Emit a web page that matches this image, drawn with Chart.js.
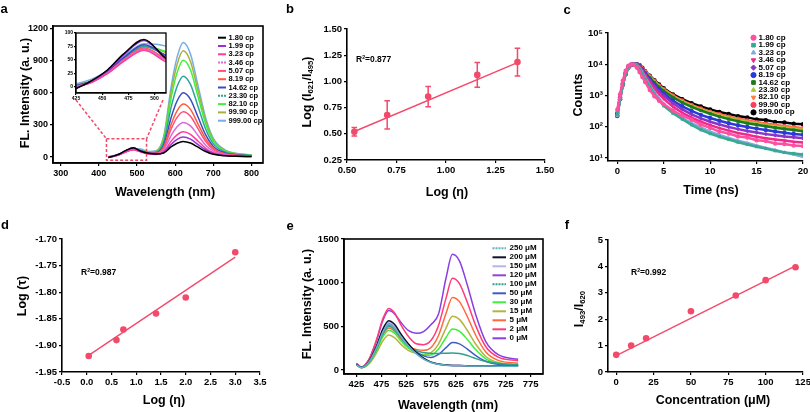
<!DOCTYPE html>
<html>
<head>
<meta charset="utf-8">
<title>Viscosity probe figure</title>
<script src="https://cdn.jsdelivr.net/npm/chart.js@4.4.1/dist/chart.umd.min.js"></script>
<style>
  html, body { margin: 0; padding: 0; background: #fff; }
  body { position: relative; width: 810px; height: 412px; overflow: hidden;
         font-family: 'Liberation Sans', Arial, sans-serif; color: #000; }
  canvas { position: absolute; left: 0; top: 0; }
  .txt { position: absolute; font-weight: bold; white-space: nowrap; line-height: 1; z-index: 5; }
  .ctr { transform: translate(-50%, -50%); }
  .rot { transform: translate(-50%, -50%) rotate(-90deg); }
  .mid { transform: translateY(-50%); }
  .letter { font-size: 13px; }
  .title { font-size: 12.5px; }
  .r2 { font-size: 8.5px; }
  sub { font-size: 62%; vertical-align: -0.3em; line-height: 0; }
  sup { font-size: 60%; vertical-align: 0.5em; line-height: 0; }
</style>
</head>
<body>
<canvas id="chartA" width="810" height="412"></canvas>
<canvas id="chartInset" width="810" height="412"></canvas>
<canvas id="chartB" width="810" height="412"></canvas>
<canvas id="chartC" width="810" height="412"></canvas>
<canvas id="chartD" width="810" height="412"></canvas>
<canvas id="chartE" width="810" height="412"></canvas>
<canvas id="chartF" width="810" height="412"></canvas>

<!-- panel letters -->
<div class="txt letter ctr" style="left:4px;top:8px">a</div>
<div class="txt letter ctr" style="left:290px;top:8px">b</div>
<div class="txt letter ctr" style="left:567px;top:9px">c</div>
<div class="txt letter ctr" style="left:5px;top:224px">d</div>
<div class="txt letter ctr" style="left:290px;top:225px">e</div>
<div class="txt letter ctr" style="left:567px;top:224px">f</div>

<!-- axis titles -->
<div class="txt title rot" style="left:25px;top:93px">FL. Intensity (a. u.)</div>
<div class="txt title ctr" style="left:165px;top:192px">Wavelength (nm)</div>
<div class="txt title rot" style="left:307px;top:92px">Log (I<sub>621</sub>/I<sub>495</sub>)</div>
<div class="txt title ctr" style="left:447px;top:192px">Log (η)</div>
<div class="txt title rot" style="left:578px;top:95px">Counts</div>
<div class="txt title ctr" style="left:711px;top:190px">Time (ns)</div>
<div class="txt title rot" style="left:22px;top:296px">Log (τ)</div>
<div class="txt title ctr" style="left:164px;top:400px">Log (η)</div>
<div class="txt title rot" style="left:307px;top:304px">FL. Intensity (a. u.)</div>
<div class="txt title ctr" style="left:448px;top:405px">Wavelength (nm)</div>
<div class="txt title rot" style="left:579px;top:309px">I<sub>493</sub>/I<sub>620</sub></div>
<div class="txt title ctr" style="left:713px;top:400px">Concentration (μM)</div>

<!-- fit quality -->
<div class="txt r2 mid" style="left:356px;top:59px">R<sup>2</sup>=0.877</div>
<div class="txt r2 mid" style="left:81px;top:272px">R<sup>2</sup>=0.987</div>
<div class="txt r2 mid" style="left:631px;top:272px">R<sup>2</sup>=0.992</div>

<script>
// ---- data ----
// panel a: emission spectra at different viscosities
const viscLabels = ['1.80 cp', '1.99 cp', '3.23 cp', '3.46 cp', '5.07 cp', '8.19 cp',
                    '14.62 cp', '23.30 cp', '82.10 cp', '99.90 cp', '999.00 cp'];
const aWave = [425, 440, 455, 470, 490, 510, 530, 550, 570, 590, 605, 621, 640, 660, 680, 700, 730, 760, 800];
const a180 = [-4, 11, 31, 60, 88, 54, 35, 28, 38, 97, 129, 146, 131, 92, 52, 26, 12, 8, 6];
const a199 = [-3, 10, 30, 58, 86, 55, 36, 28, 45, 120, 164, 186, 167, 116, 66, 32, 15, 8, 6];
const a323 = [-1, 8, 24, 46, 68, 47, 29, 25, 51, 151, 207, 236, 212, 148, 82, 40, 17, 10, 5];
const a346 = [0, 8, 25, 48, 70, 50, 32, 29, 66, 204, 282, 322, 290, 201, 111, 55, 22, 12, 7];
const a507 = [-1, 8, 25, 48, 70, 51, 33, 33, 83, 266, 369, 422, 380, 263, 145, 71, 28, 15, 8];
const a819 = [0, 9, 25, 49, 72, 53, 34, 35, 95, 311, 431, 493, 444, 307, 170, 82, 32, 18, 10];
const a1462 = [2, 10, 28, 53, 78, 59, 39, 41, 113, 375, 522, 598, 538, 371, 206, 99, 39, 21, 12];
const a2330 = [2, 10, 27, 51, 75, 59, 40, 45, 140, 472, 657, 753, 677, 468, 259, 123, 48, 25, 14];
const a8210 = [2, 10, 27, 51, 74, 66, 43, 50, 165, 564, 786, 902, 812, 560, 308, 147, 57, 30, 16];
const a9990 = [3, 11, 28, 52, 76, 64, 44, 53, 180, 618, 862, 989, 890, 614, 339, 161, 62, 32, 18];
const a99900 = [5, 14, 30, 55, 80, 76, 52, 59, 194, 667, 930, 1067, 960, 663, 365, 174, 68, 35, 19];
const aXTicks = [300, 400, 500, 600, 700, 800];
const aYTicks = [0, 300, 600, 900, 1200];
const insetXTicks = [425, 450, 475, 500];
const insetYTicks = [0, 25, 50, 75, 100];

// panel b: log ratio vs log viscosity
const bX = [0.537, 0.703, 0.91, 1.158, 1.361];
const bY = [0.52, 0.68, 0.855, 1.062, 1.184];
const bErr = [0.04, 0.135, 0.096, 0.118, 0.132];
const bFitX = [0.537, 1.361];
const bFitY = [0.522, 1.18];
const bXTicks = [0.5, 0.75, 1.0, 1.25, 1.5];
const bYTicks = [0.25, 0.5, 0.75, 1.0, 1.25, 1.5];

// panel c: fluorescence decays
const cTime = [0, 0.3, 0.6, 0.9, 1.2, 1.5, 1.8, 2.1, 2.4, 2.7, 3, 3.5, 4, 4.5, 5, 6, 7, 8, 9, 10, 11, 12, 13, 14, 15, 16, 17, 18, 19, 20];
const c180 = [350, 1100, 3000, 6200, 9000, 10000, 9700, 7800, 5600, 3900, 2700, 1500, 950, 680, 520, 330, 225, 168, 118, 92, 70, 61, 49, 45, 37, 35, 29, 28, 25, 24];
const c199 = [250, 800, 2300, 5000, 8000, 9600, 10000, 9300, 7200, 5000, 3400, 1900, 1100, 700, 470, 270, 175, 115, 80, 60, 48, 39, 32, 27, 23, 20, 17, 15, 14, 13];
const c323 = [220, 750, 2200, 4800, 7800, 9500, 10000, 9500, 7600, 5500, 3800, 2100, 1250, 800, 540, 300, 190, 130, 95, 70, 55, 44, 36, 30, 25, 21, 18, 15, 13, 11];
const c346 = [300, 950, 2600, 5500, 8600, 9900, 10000, 9700, 8200, 6000, 4300, 2600, 1650, 1100, 780, 440, 280, 195, 145, 112, 90, 75, 63, 55, 48, 43, 39, 36, 33, 31];
const c507 = [280, 900, 2500, 5300, 8400, 9800, 10000, 9800, 8500, 6400, 4700, 3000, 1950, 1350, 980, 560, 360, 250, 185, 145, 118, 98, 84, 73, 65, 58, 53, 49, 46, 43];
const c819 = [270, 880, 2450, 5200, 8300, 9700, 10000, 9900, 8700, 6700, 5000, 3300, 2200, 1550, 1150, 680, 450, 320, 240, 190, 155, 130, 112, 98, 87, 78, 70, 64, 59, 55];
const c1462 = [260, 850, 2400, 5100, 8200, 9600, 10000, 10000, 8900, 7000, 5300, 3700, 2600, 1850, 1400, 870, 590, 430, 330, 260, 210, 175, 150, 130, 115, 103, 93, 85, 78, 72];
const c2330 = [250, 830, 2350, 5000, 8100, 9600, 10000, 10000, 9000, 7200, 5500, 3900, 2750, 1950, 1480, 920, 630, 460, 350, 280, 228, 190, 162, 141, 125, 112, 101, 92, 85, 78];
const c8210 = [240, 810, 2300, 4900, 8000, 9500, 10000, 10000, 9100, 7400, 5700, 4050, 2850, 2050, 1560, 980, 670, 490, 375, 300, 245, 205, 176, 153, 136, 122, 110, 101, 94, 88];
const c9990 = [230, 790, 2250, 4850, 7900, 9400, 10000, 10000, 9200, 7500, 5900, 4150, 2950, 2100, 1600, 1000, 690, 500, 385, 305, 250, 210, 180, 158, 140, 126, 114, 104, 96, 90];
const c99900 = [220, 760, 2200, 4800, 7800, 9400, 10000, 10000, 9300, 7700, 6000, 4300, 3100, 2250, 1700, 1080, 760, 570, 445, 360, 296, 258, 219, 199, 172, 163, 143, 137, 124, 120];
const cXTicks = [0, 5, 10, 15, 20];
const cYTicks = [10, 100, 1000, 10000, 100000];

// panel d: log lifetime vs log viscosity
const dX = [0.04, 0.6, 0.74, 1.4, 2.0, 3.0];
const dY = [-1.92, -1.89, -1.87, -1.84, -1.81, -1.725];
const dFitX = [0.0, 3.0];
const dFitY = [-1.921, -1.734];
const dXTicks = [-0.5, 0, 0.5, 1.0, 1.5, 2.0, 2.5, 3.0, 3.5];
const dYTicks = [-1.95, -1.9, -1.85, -1.8, -1.75, -1.7];

// panel e: emission spectra at different concentrations
const concLabels = ['250 μM', '200 μM', '150 μM', '120 μM', '100 μM', '50 μM',
                    '30 μM', '15 μM', '5 μM', '2 μM', '0 μM'];
const eWave = [425, 435, 450, 465, 478, 490, 502, 515, 530, 545, 560, 575, 590, 605, 618, 632, 648, 665, 685, 710, 750];
const e250 = [62, 27, 88, 250, 432, 520, 478, 374, 270, 187, 125, 86, 65, 55, 50, 48, 47, 46, 45, 44, 43];
const e200 = [68, 28, 96, 271, 469, 565, 520, 407, 294, 203, 136, 90, 68, 56, 51, 50, 49, 48, 47, 46, 45];
const e150 = [65, 27, 93, 262, 452, 545, 501, 392, 283, 196, 131, 88, 65, 55, 50, 49, 48, 47, 46, 45, 44];
const e120 = [64, 28, 90, 254, 440, 530, 488, 382, 276, 191, 127, 88, 66, 56, 52, 50, 49, 48, 47, 46, 45];
const e100 = [60, 29, 85, 240, 415, 500, 462, 365, 275, 220, 200, 190, 188, 193, 195, 188, 165, 130, 98, 75, 58];
const e50 = [62, 30, 88, 247, 427, 515, 474, 371, 273, 207, 162, 144, 178, 256, 315, 299, 239, 165, 100, 66, 54];
const e30 = [58, 27, 77, 218, 378, 455, 419, 328, 246, 198, 170, 172, 240, 372, 470, 444, 349, 232, 128, 76, 58];
const e15 = [55, 25, 68, 192, 332, 400, 368, 290, 222, 190, 178, 198, 297, 480, 615, 580, 452, 295, 155, 85, 60];
const e5 = [60, 28, 82, 230, 398, 480, 442, 350, 265, 236, 225, 258, 395, 646, 830, 783, 610, 395, 207, 110, 78];
const e2 = [75, 35, 120, 340, 585, 705, 650, 510, 380, 300, 290, 340, 510, 820, 1050, 990, 773, 505, 266, 147, 105];
const e0 = [70, 35, 118, 330, 565, 680, 640, 540, 450, 420, 440, 520, 640, 1050, 1325, 1250, 970, 630, 325, 175, 122];
const eXTicks = [425, 475, 525, 575, 625, 675, 725, 775];
const eYTicks = [0, 500, 1000, 1500];

// panel f: ratio vs concentration
const fX = [0, 10, 20, 50, 80, 100, 120];
const fY = [0.65, 1.0, 1.28, 2.3, 2.9, 3.48, 3.97];
const fFitX = [0, 120];
const fFitY = [0.62, 4.02];
const fXTicks = [0, 25, 50, 75, 100, 125];
const fYTicks = [0, 1, 2, 3, 4, 5];

// ---- helpers ----
const W = 810, H = 412;
const FONT = "'Liberation Sans', Arial, sans-serif";
const PINK = '#f24a6b';
const SUP = ['\u2070', '\u00b9', '\u00b2', '\u00b3', '\u2074', '\u2075'];

Chart.defaults.font.family = FONT;
Chart.defaults.color = '#000';

function pairs(xs, ys) {
    return xs.map((x, i) => ({ x: x, y: ys[i] }));
}

// pin the axis box size so the plot area lands where the reference has it
function pinSize(size) {
    return function(scale) {
        if (scale.isHorizontal()) scale.height = size; else scale.width = size;
        scale.paddingLeft = scale.paddingRight = scale.paddingTop = scale.paddingBottom = 0;
    };
}

function linAxis(min, max, ticks, digits, size, tickLen) {
    return {
        type: 'linear', min: min, max: max, bounds: 'data',
        afterBuildTicks: s => { s.ticks = ticks.map(v => ({ value: v })); },
        ticks: {
            autoSkip: false, maxRotation: 0, padding: tickLen ? 1 : 2, color: '#000',
            font: { family: FONT, size: size, weight: 'bold' },
            callback: v => Number(v).toFixed(digits)
        },
        grid: { drawOnChartArea: false, drawTicks: true, tickLength: tickLen || 3, color: '#000', lineWidth: 1.2 },
        border: { display: true, color: '#000', width: tickLen ? 1.2 : 1.6 }
    };
}

function buildPanel(canvasId, area, yw, xh, datasets, xAxis, yAxis, plugins) {
    xAxis.afterFit = pinSize(xh);
    yAxis.afterFit = pinSize(yw);
    return new Chart(document.getElementById(canvasId), {
        type: 'scatter',
        data: { datasets: datasets },
        options: {
            responsive: false, animation: false, events: [],
            layout: {
                autoPadding: false,
                padding: { left: area.l - yw, top: area.t, right: W - area.r, bottom: H - area.b - xh }
            },
            plugins: { legend: { display: false }, tooltip: { enabled: false } },
            scales: { x: xAxis, y: yAxis }
        },
        plugins: plugins || []
    });
}

// dotted only in the legend key; the curves themselves read as solid in the figure
function spectrum(label, xs, ys, color, dotted) {
    return {
        label: label, data: pairs(xs, ys), showLine: true,
        borderColor: color, backgroundColor: color, borderWidth: 1.5,
        legendDotted: !!dotted, pointRadius: 0, cubicInterpolationMode: 'monotone'
    };
}

function decay(label, ys, color, style, rot) {
    return {
        label: label, data: pairs(cTime, ys), showLine: true,
        borderColor: color, backgroundColor: color, borderWidth: 2.5,
        pointStyle: style, rotation: rot || 0, pointRadius: 2.2, pointBorderWidth: 0
    };
}

function scatterDots(xs, ys) {
    return { data: pairs(xs, ys), showLine: false, pointRadius: 3.3, backgroundColor: PINK, pointBorderWidth: 0 };
}

function fitLine(xs, ys) {
    return { data: pairs(xs, ys), showLine: true, borderColor: PINK, borderWidth: 1.4, pointRadius: 0 };
}

const boxFrame = {
    id: 'boxFrame',
    afterDraw(chart) {
        const a = chart.chartArea, ctx = chart.ctx;
        ctx.save();
        ctx.strokeStyle = '#000';
        ctx.lineWidth = chart.options.frameWidth || 1.6;
        ctx.strokeRect(a.left, a.top, a.right - a.left, a.bottom - a.top);
        ctx.restore();
    }
};

// legend swatches drawn on the canvas, labels added as html text
function lineLegend(x0, x1, y0, dy) {
    return {
        id: 'lineLegend',
        afterDraw(chart) {
            const ctx = chart.ctx;
            chart.data.datasets.forEach((ds, i) => {
                const y = y0 + i * dy;
                ctx.save();
                ctx.strokeStyle = ds.borderColor;
                ctx.lineWidth = 2;
                ctx.setLineDash(ds.legendDotted ? [2, 1] : []);
                ctx.beginPath();
                ctx.moveTo(x0, y);
                ctx.lineTo(x1, y);
                ctx.stroke();
                ctx.restore();
            });
        }
    };
}

function pointLegend(x, y0, dy) {
    return {
        id: 'pointLegend',
        afterDraw(chart) {
            const ctx = chart.ctx;
            chart.data.datasets.forEach((ds, i) => {
                ctx.save();
                ctx.fillStyle = ds.backgroundColor;
                ctx.strokeStyle = ds.backgroundColor;
                Chart.helpers.drawPoint(ctx, { pointStyle: ds.pointStyle, rotation: ds.rotation, radius: 2.6, borderWidth: 0.5 }, x, y0 + i * dy);
                ctx.restore();
            });
        }
    };
}

function legendText(labels, x, y0, dy, size) {
    labels.forEach((t, i) => {
        const d = document.createElement('div');
        d.className = 'txt mid';
        d.style.left = x + 'px';
        d.style.top = (y0 + i * dy) + 'px';
        d.style.fontSize = size + 'px';
        d.textContent = t;
        document.body.appendChild(d);
    });
}

// ---- panel a ----
const aColors = ['#000000', '#9b30d9', '#ff3c9a', '#d86bd8', '#ff4f7b', '#ff5a3d',
                 '#3b4cc0', '#2fa39a', '#3ef03e', '#a9b03a', '#75aee6'];
const aSeries = [a180, a199, a323, a346, a507, a819, a1462, a2330, a8210, a9990, a99900];
const aDotted = [false, false, false, true, false, false, false, true, false, false, false];

function aDatasets() {
    return aSeries.map((ys, i) => spectrum(viscLabels[i], aWave, ys, aColors[i], aDotted[i]));
}

const insetChart = buildPanel('chartInset', { l: 76, t: 33, r: 166, b: 93 }, 16, 12, aDatasets(),
    linAxis(425, 511, insetXTicks, 0, 5, 2), linAxis(-12, 100, insetYTicks, 0, 5, 2), [boxFrame]);
insetChart.options.frameWidth = 1.3;
insetChart.update();

const zoomBox = { x0: 420, x1: 525, y0: -30, y1: 170 };
const zoomMarks = {
    id: 'zoomMarks',
    afterDatasetsDraw(chart) {
        const xs = chart.scales.x, ys = chart.scales.y, ctx = chart.ctx;
        const left = xs.getPixelForValue(zoomBox.x0), right = xs.getPixelForValue(zoomBox.x1);
        const top = ys.getPixelForValue(zoomBox.y1), bottom = ys.getPixelForValue(zoomBox.y0);
        ctx.save();
        ctx.strokeStyle = PINK;
        ctx.lineWidth = 1.5;
        ctx.setLineDash([3, 2]);
        ctx.strokeRect(left, top, right - left, bottom - top);
        const ia = insetChart.chartArea;
        ctx.beginPath();
        ctx.moveTo(ia.left, ia.bottom + 7);
        ctx.lineTo(left, top);
        ctx.moveTo(ia.right - 3, ia.bottom + 7);
        ctx.lineTo(right, top);
        ctx.stroke();
        ctx.restore();
    }
};

buildPanel('chartA', { l: 53, t: 26, r: 263, b: 163 }, 40, 20, aDatasets(),
    linAxis(280, 830, aXTicks, 0, 9), linAxis(-55, 1220, aYTicks, 0, 9),
    [boxFrame, zoomMarks, lineLegend(218, 226, 37.7, 8.3)]);
legendText(viscLabels, 228.5, 37.7, 8.3, 7.5);

// ---- panel b ----
const errorBars = {
    id: 'errorBars',
    beforeDatasetsDraw(chart) {
        const xs = chart.scales.x, ys = chart.scales.y, ctx = chart.ctx;
        ctx.save();
        ctx.strokeStyle = PINK;
        ctx.lineWidth = 1.5;
        bX.forEach((x, i) => {
            const px = xs.getPixelForValue(x);
            const lo = ys.getPixelForValue(bY[i] - bErr[i]), hi = ys.getPixelForValue(bY[i] + bErr[i]);
            ctx.beginPath();
            ctx.moveTo(px, lo); ctx.lineTo(px, hi);
            ctx.moveTo(px - 2.8, lo); ctx.lineTo(px + 2.8, lo);
            ctx.moveTo(px - 2.8, hi); ctx.lineTo(px + 2.8, hi);
            ctx.stroke();
        });
        ctx.restore();
    }
};

buildPanel('chartB', { l: 347, t: 29, r: 545, b: 160 }, 40, 20,
    [scatterDots(bX, bY), fitLine(bFitX, bFitY)],
    linAxis(0.5, 1.5, bXTicks, 2, 9.5), linAxis(0.25, 1.5, bYTicks, 2, 9.5), [errorBars]);

// ---- panel c ----
const cAxisY = linAxis(8, 100000, cYTicks, 0, 9.5);
cAxisY.type = 'logarithmic';
cAxisY.ticks.callback = v => '10' + SUP[Math.round(Math.log10(v))];

buildPanel('chartC', { l: 608, t: 33, r: 803, b: 161 }, 40, 20, [
    decay(viscLabels[0], c180, '#ff4fa0', 'circle'),
    decay(viscLabels[1], c199, '#3aa892', 'rect'),
    decay(viscLabels[2], c323, '#7fa8dc', 'triangle'),
    decay(viscLabels[3], c346, '#ee2a8a', 'triangle', 180),
    decay(viscLabels[4], c507, '#8a35c8', 'rectRot'),
    decay(viscLabels[5], c819, '#2a3ad8', 'circle'),
    decay(viscLabels[6], c1462, '#1d7a1d', 'rect'),
    decay(viscLabels[7], c2330, '#a6c83c', 'triangle'),
    decay(viscLabels[8], c8210, '#ff7a3a', 'triangle', 180),
    decay(viscLabels[9], c9990, '#ff3c5a', 'circle'),
    decay(viscLabels[10], c99900, '#000000', 'circle')
], linAxis(-1, 20, cXTicks, 0, 9.5), cAxisY, [pointLegend(753.5, 37.7, 7.47)]);
legendText(viscLabels, 758.5, 37.7, 7.47, 8);

// ---- panel d ----
buildPanel('chartD', { l: 62, t: 239, r: 260, b: 372 }, 40, 20,
    [scatterDots(dX, dY), fitLine(dFitX, dFitY)],
    linAxis(-0.5, 3.5, dXTicks, 1, 9.5), linAxis(-1.95, -1.7, dYTicks, 2, 9.5));

// ---- panel e ----
const eColors = ['#5fb3c4', '#101030', '#b3b7e6', '#8f45d8', '#2ea08c', '#3d5cc4',
                 '#3cf03c', '#b4b43e', '#ff6a3d', '#ff3b79', '#8a3fe0'];
const eSeries = [e250, e200, e150, e120, e100, e50, e30, e15, e5, e2, e0];
const eDotted = [true, false, false, false, true, false, false, false, false, false, false];

buildPanel('chartE', { l: 344, t: 239, r: 543, b: 374 }, 40, 20,
    eSeries.map((ys, i) => spectrum(concLabels[i], eWave, ys, eColors[i], eDotted[i])),
    linAxis(400, 800, eXTicks, 0, 9.5), linAxis(-46, 1500, eYTicks, 0, 9.5),
    [boxFrame, lineLegend(492.5, 506, 248.3, 9.0)]);
legendText(concLabels, 509.5, 248.3, 9.0, 8);

// ---- panel f ----
buildPanel('chartF', { l: 608, t: 240, r: 803, b: 372 }, 40, 20,
    [scatterDots(fX, fY), fitLine(fFitX, fFitY)],
    linAxis(-5.5, 125, fXTicks, 0, 9.5), linAxis(0, 5, fYTicks, 0, 9.5));
</script>
</body>
</html>
